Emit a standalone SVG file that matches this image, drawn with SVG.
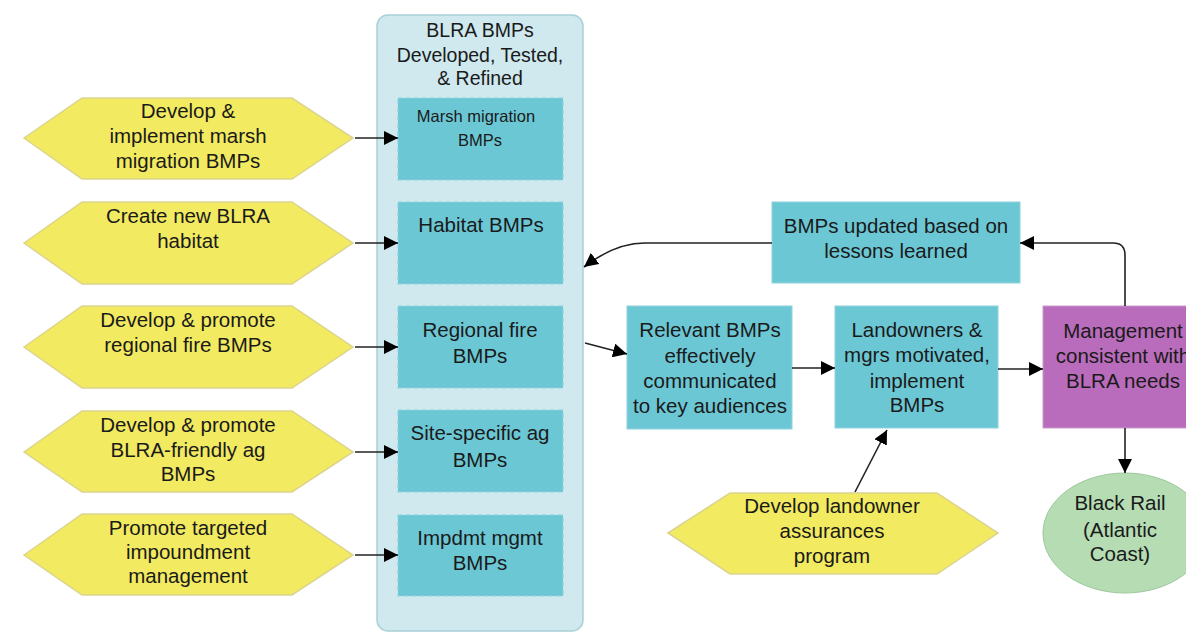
<svg xmlns="http://www.w3.org/2000/svg" width="1186" height="632" viewBox="0 0 1186 632">
  <defs>
    <marker id="arrow" viewBox="0 0 10 10" refX="10" refY="5" markerWidth="14" markerHeight="14" markerUnits="userSpaceOnUse" orient="auto">
      <path d="M0,0 L10,5 L0,10 z" fill="#000"/>
    </marker>
    <style>
      text { font-family: "Liberation Sans", Arial, sans-serif; font-size: 20.5px; fill: #1a1a1a; text-anchor: middle; }
      .small { font-size: 16.5px; }
      .title { font-size: 19.5px; }
      .hex { fill: #f2ea60; stroke: #dcd48e; stroke-width: 1.5; }
      .group { fill: #cfe9ef; stroke: #a9d0d9; stroke-width: 1.5; }
      .bmp { fill: #6cc7d5; stroke: #8fd3de; stroke-width: 1.2; stroke-dasharray: 5 3; }
      .box { fill: #6cc7d5; stroke: #8fd3de; stroke-width: 1; }
      .mgmt { fill: #b96cbb; stroke: #c99bcb; stroke-width: 1; }
      .goal { fill: #b5dcb3; stroke: #9ec79c; stroke-width: 1; }
      .link { fill: none; stroke: #222; stroke-width: 1.6; marker-end: url(#arrow); }
    </style>
  </defs>
  <rect width="1186" height="632" fill="#fff"/>

  <!-- container of BMP sets -->
  <g id="bmp-group">
    <rect class="group" x="377" y="15" width="206" height="616" rx="11"/>
    <text class="title" x="480" y="37">BLRA BMPs</text>
    <text class="title" x="480" y="62">Developed, Tested,</text>
    <text class="title" x="480" y="85">&amp; Refined</text>
  </g>

  <g id="bmp-marsh">
    <rect class="bmp" x="398" y="98" width="165" height="82"/>
    <text class="small" x="476" y="122">Marsh migration</text>
    <text class="small" x="480" y="146">BMPs</text>
  </g>
  <g id="bmp-habitat">
    <rect class="bmp" x="398" y="202" width="165" height="82"/>
    <text x="481" y="232">Habitat BMPs</text>
  </g>
  <g id="bmp-fire">
    <rect class="bmp" x="398" y="306" width="165" height="82"/>
    <text x="480" y="337">Regional fire</text>
    <text x="480" y="363">BMPs</text>
  </g>
  <g id="bmp-ag">
    <rect class="bmp" x="398" y="410" width="165" height="82"/>
    <text x="480" y="440">Site-specific ag</text>
    <text x="480" y="467">BMPs</text>
  </g>
  <g id="bmp-impoundment">
    <rect class="bmp" x="398" y="515" width="165" height="81"/>
    <text x="480" y="545">Impdmt mgmt</text>
    <text x="480" y="570">BMPs</text>
  </g>

  <!-- strategies -->
  <g id="strategy-marsh">
    <polygon class="hex" points="24,138 82,98 292,98 353,138 292,179 82,179"/>
    <text x="188" y="118">Develop &amp;</text>
    <text x="188" y="143">implement marsh</text>
    <text x="188" y="168">migration BMPs</text>
  </g>
  <g id="strategy-habitat">
    <polygon class="hex" points="24,243 82,202 292,202 353,243 292,284 82,284"/>
    <text x="188" y="223">Create new BLRA</text>
    <text x="188" y="248">habitat</text>
  </g>
  <g id="strategy-fire">
    <polygon class="hex" points="24,347 82,306 292,306 353,347 292,388 82,388"/>
    <text x="188" y="327">Develop &amp; promote</text>
    <text x="188" y="352">regional fire BMPs</text>
  </g>
  <g id="strategy-ag">
    <polygon class="hex" points="24,452 82,411 292,411 353,452 292,492 82,492"/>
    <text x="188" y="432">Develop &amp; promote</text>
    <text x="188" y="457">BLRA-friendly ag</text>
    <text x="188" y="481">BMPs</text>
  </g>
  <g id="strategy-impoundment">
    <polygon class="hex" points="24,555 82,514 292,514 353,555 292,595 82,595"/>
    <text x="188" y="535">Promote targeted</text>
    <text x="188" y="559">impoundment</text>
    <text x="188" y="583">management</text>
  </g>
  <g id="strategy-assurances">
    <polygon class="hex" points="668,533 730,493 937,493 998,533 937,574 730,574"/>
    <text x="832" y="513">Develop landowner</text>
    <text x="832" y="538">assurances</text>
    <text x="832" y="563">program</text>
  </g>

  <!-- results -->
  <g id="lessons">
    <rect class="box" x="772" y="202" width="248" height="81"/>
    <text x="896" y="233">BMPs updated based on</text>
    <text x="896" y="258">lessons learned</text>
  </g>
  <g id="communicated">
    <rect class="box" x="627" y="306" width="165" height="123"/>
    <text x="710" y="337">Relevant BMPs</text>
    <text x="710" y="363">effectively</text>
    <text x="710" y="388">communicated</text>
    <text x="710" y="413">to key audiences</text>
  </g>
  <g id="implemented">
    <rect class="box" x="835" y="306" width="163" height="122"/>
    <text x="917" y="337">Landowners &amp;</text>
    <text x="917" y="362">mgrs motivated,</text>
    <text x="917" y="388">implement</text>
    <text x="917" y="412">BMPs</text>
  </g>
  <g id="management">
    <rect class="mgmt" x="1043" y="306" width="165" height="122"/>
    <text x="1123" y="338">Management</text>
    <text x="1123" y="363">consistent with</text>
    <text x="1123" y="388">BLRA needs</text>
  </g>
  <g id="black-rail">
    <ellipse class="goal" cx="1125" cy="533" rx="82" ry="60"/>
    <text x="1120" y="510">Black Rail</text>
    <text x="1120" y="537">(Atlantic</text>
    <text x="1120" y="561">Coast)</text>
  </g>

  <!-- connectors -->
  <g id="connectors">
    <path class="link" d="M355,138 H398"/>
    <path class="link" d="M355,243 H398"/>
    <path class="link" d="M355,347 H398"/>
    <path class="link" d="M355,452 H398"/>
    <path class="link" d="M355,555 H398"/>
    <path class="link" d="M585,343 L627,354"/>
    <path class="link" d="M792,368 H835"/>
    <path class="link" d="M998,369 H1043"/>
    <path class="link" d="M855,492 L887,430"/>
    <path class="link" d="M1125,428 V473"/>
    <path class="link" d="M1125,306 V255 Q1125,243 1113,243 H1020"/>
    <path class="link" d="M772,243 H645 Q615,243 584,267"/>
  </g>
</svg>
